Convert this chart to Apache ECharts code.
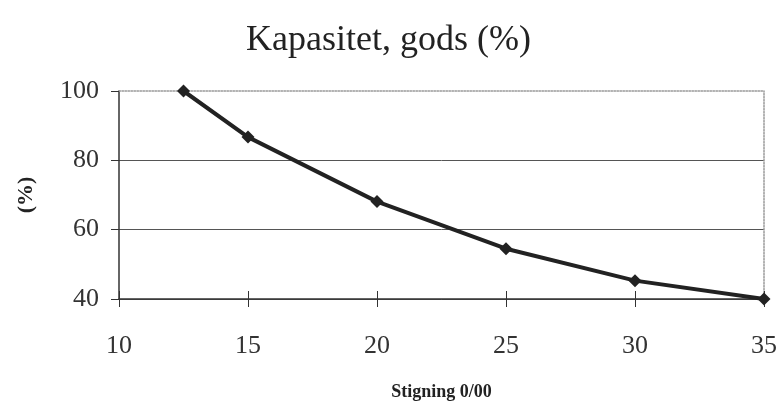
<!DOCTYPE html>
<html>
<head>
  <meta charset="utf-8">
  <title>Kapasitet, gods</title>
  <script src="https://cdn.jsdelivr.net/npm/echarts@6/dist/echarts.min.js"></script>
  <style>
    html, body { margin: 0; padding: 0; background: #fff; }
    #chart { width: 777px; height: 404px; }
  </style>
</head>
<body>
  <div id="chart"></div>
  <script>
    // stigning (promille) og kapasitet (%)
    var stigning = [12.5, 15, 20, 25, 30, 35];
    var kapasitet = [100, 86.7, 68.1, 54.5, 45.3, 40];

    var serif = 'Liberation Serif, Times New Roman, serif';
    var points = stigning.map(function (s, i) { return [s, kapasitet[i]]; });

    var myChart = echarts.init(document.getElementById('chart'));
    var option = {
      backgroundColor: '#fff',
      animation: false,
      title: {
        text: 'Kapasitet, gods (%)',
        left: 'center',
        top: 18,
        textStyle: { fontFamily: serif, fontSize: 36, fontWeight: 'normal', color: '#222' }
      },
      grid: { left: 119, right: 13, top: 91, bottom: 105, outerBoundsMode: 'none', containLabel: false },
      xAxis: [
        {
          type: 'value', min: 10, max: 35, interval: 5,
          name: 'Stigning 0/00', nameLocation: 'middle', nameGap: 84,
          nameTextStyle: { fontFamily: serif, fontSize: 18, fontWeight: 'bold', color: '#222' },
          axisLine: { lineStyle: { color: '#333', width: 1.5 } },
          axisTick: { length: 8, lineStyle: { color: '#333' } },
          axisLabel: { fontFamily: serif, fontSize: 26, color: '#333', margin: 34 },
          splitLine: { show: false }
        },
        {
          // ticks on the inside so they cross the axis
          type: 'value', min: 10, max: 35, interval: 5, position: 'bottom',
          axisLine: { show: false },
          axisTick: { inside: true, length: 8, lineStyle: { color: '#333' } },
          axisLabel: { show: false },
          splitLine: { show: false }
        },
        {
          type: 'value', min: 10, max: 35, position: 'top',
          axisLine: { lineStyle: { color: '#999', type: 'dotted', width: 1.5 } },
          axisTick: { show: false }, axisLabel: { show: false }, splitLine: { show: false }
        }
      ],
      yAxis: [
        {
          type: 'value', min: 40, max: 100, interval: 20,
          name: '(%)', nameLocation: 'middle', nameGap: 82, nameRotate: 90,
          nameTextStyle: { fontFamily: serif, fontSize: 22, fontWeight: 'bold', color: '#222' },
          axisLine: { show: true, lineStyle: { color: '#333', width: 1.5 } },
          axisTick: { show: true, length: 8, lineStyle: { color: '#333' } },
          axisLabel: { fontFamily: serif, fontSize: 26, color: '#333', margin: 20 },
          splitLine: { show: true, showMaxLine: false, lineStyle: { color: '#555', width: 1 } }
        },
        {
          type: 'value', min: 40, max: 100, position: 'right',
          axisLine: { show: true, lineStyle: { color: '#999', type: 'dotted', width: 1.5 } },
          axisTick: { show: false }, axisLabel: { show: false }, splitLine: { show: false }
        }
      ],
      series: [
        {
          type: 'line',
          data: points,
          symbol: 'diamond',
          symbolSize: 13,
          lineStyle: { color: '#222', width: 4 },
          itemStyle: { color: '#222' },
          z: 5
        }
      ]
    };
    myChart.setOption(option);
  </script>
</body>
</html>
